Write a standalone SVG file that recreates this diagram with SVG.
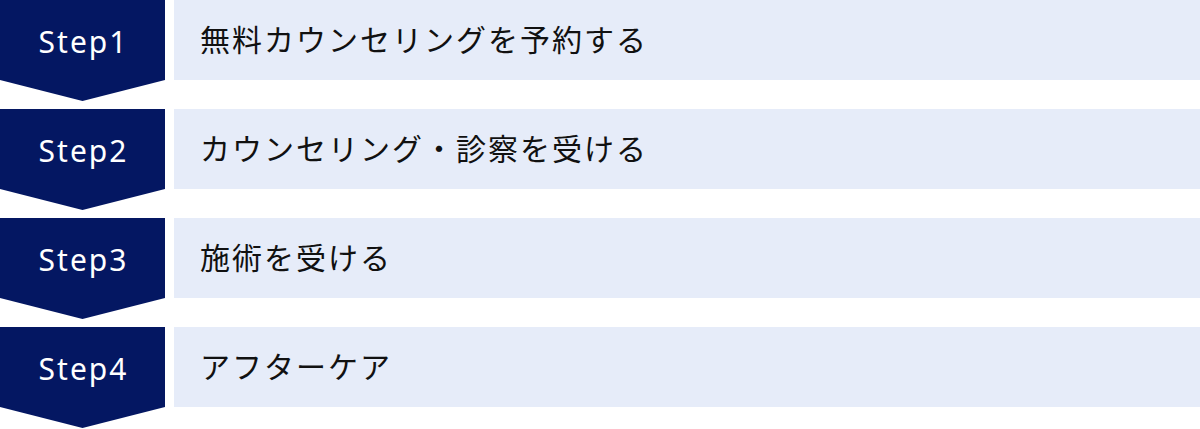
<svg xmlns="http://www.w3.org/2000/svg" width="1200" height="429" viewBox="0 0 1200 429">
<style>
.badge{fill:#041762}
.bar{fill:#e6ecf9}
.st{font-family:"Noto Sans","DejaVu Sans",sans-serif;font-size:30px;fill:#ffffff;text-anchor:middle;letter-spacing:2px}
.lb{font-family:"Noto Sans CJK JP","Noto Sans",sans-serif;font-size:30px;fill:#111111;letter-spacing:2px}
</style>
<defs>
<path id="chev" d="M0 0H165V80L82.5 101L0 80Z"/>
</defs>
<g id="step1">
<use href="#chev" class="badge"/>
<rect class="bar" x="174" y="0" width="1026" height="80"/>
<text class="st" x="83.5" y="53">Step1</text>
<text class="lb" x="200" y="51">無料カウンセリングを予約する</text>
</g>
<g id="step2" transform="translate(0,109)">
<use href="#chev" class="badge"/>
<rect class="bar" x="174" y="0" width="1026" height="80"/>
<text class="st" x="83.5" y="53">Step2</text>
<text class="lb" x="200" y="51">カウンセリング・診察を受ける</text>
</g>
<g id="step3" transform="translate(0,218)">
<use href="#chev" class="badge"/>
<rect class="bar" x="174" y="0" width="1026" height="80"/>
<text class="st" x="83.5" y="53">Step3</text>
<text class="lb" x="200" y="51">施術を受ける</text>
</g>
<g id="step4" transform="translate(0,327)">
<use href="#chev" class="badge"/>
<rect class="bar" x="174" y="0" width="1026" height="80"/>
<text class="st" x="83.5" y="53">Step4</text>
<text class="lb" x="200" y="51">アフターケア</text>
</g>
<g id="connectors"></g>
</svg>
